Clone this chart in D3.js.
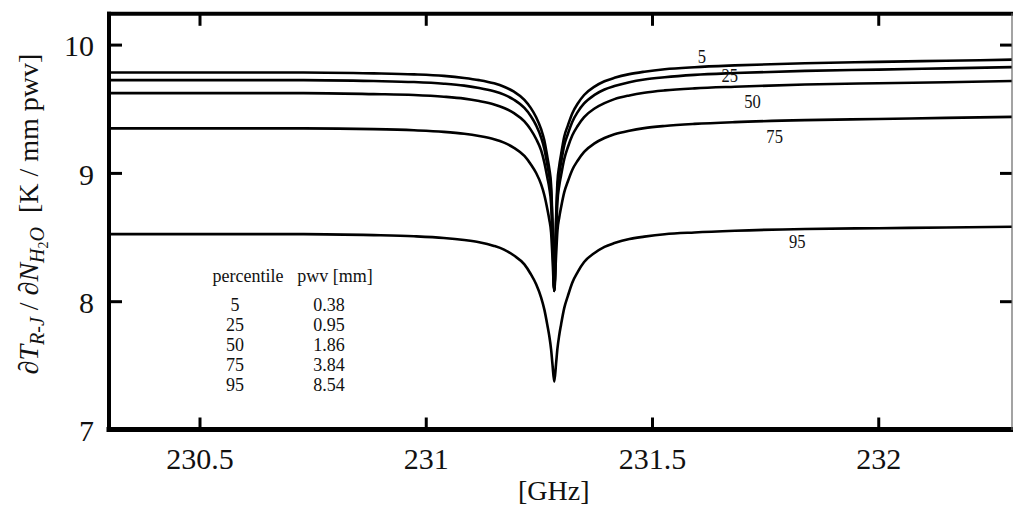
<!DOCTYPE html>
<html>
<head>
<meta charset="utf-8">
<script src="https://cdn.jsdelivr.net/npm/d3@7"></script>
<style>
  body { margin: 0; background: #fff; }
  svg text { font-family: "Liberation Serif", "Times New Roman", serif; fill: #111; }
</style>
</head>
<body>
<script>
const width = 1013;
const height = 509;
const serif = '"Liberation Serif", "Times New Roman", serif';

// frequency grid (GHz) shared by all curves
const freqs = [230.300, 230.500, 230.730, 230.885, 230.974, 231.040, 231.085, 231.118, 231.151, 231.173,
    231.195, 231.218, 231.232, 231.244, 231.255, 231.262, 231.269, 231.273, 231.277, 231.280,
    231.284,
    231.288, 231.291, 231.295, 231.299, 231.306, 231.314, 231.324, 231.336, 231.350, 231.373,
    231.395, 231.417, 231.450, 231.483, 231.528, 231.594, 231.683, 231.838, 232.000, 232.150, 232.300];

// dT/dN values per percentile
const v5 = [9.783, 9.783, 9.783, 9.776, 9.768, 9.756, 9.740, 9.723, 9.698, 9.672, 9.633, 9.570, 9.507, 9.434,
    9.340, 9.255, 9.118, 9.033, 8.905, 8.624, 8.079, 8.636, 8.924, 9.055, 9.142, 9.282, 9.369, 9.465, 9.541,
    9.607, 9.672, 9.714, 9.741, 9.770, 9.789, 9.808, 9.824, 9.838, 9.855, 9.865, 9.874, 9.883];
const v25 = [9.723, 9.723, 9.723, 9.716, 9.708, 9.695, 9.680, 9.662, 9.636, 9.610, 9.570, 9.506, 9.444, 9.370,
    9.276, 9.189, 9.057, 8.975, 8.852, 8.589, 8.079, 8.600, 8.869, 8.995, 9.079, 9.214, 9.303, 9.399, 9.476,
    9.541, 9.608, 9.650, 9.677, 9.707, 9.728, 9.746, 9.764, 9.778, 9.795, 9.805, 9.815, 9.825];
const v50 = [9.622, 9.622, 9.622, 9.614, 9.607, 9.594, 9.579, 9.560, 9.534, 9.506, 9.466, 9.401, 9.337, 9.264,
    9.175, 9.082, 8.959, 8.882, 8.758, 8.512, 8.080, 8.522, 8.774, 8.900, 8.979, 9.106, 9.200, 9.293, 9.368,
    9.435, 9.502, 9.544, 9.575, 9.604, 9.625, 9.643, 9.659, 9.672, 9.689, 9.699, 9.707, 9.716];
const v75 = [9.347, 9.347, 9.347, 9.341, 9.332, 9.320, 9.305, 9.287, 9.262, 9.236, 9.195, 9.132, 9.068, 8.999,
    8.910, 8.828, 8.713, 8.637, 8.536, 8.346, 8.080, 8.353, 8.548, 8.652, 8.730, 8.848, 8.933, 9.025, 9.097,
    9.164, 9.230, 9.272, 9.301, 9.329, 9.349, 9.366, 9.382, 9.396, 9.411, 9.420, 9.429, 9.437];
const v95 = [8.523, 8.523, 8.523, 8.515, 8.506, 8.493, 8.477, 8.460, 8.431, 8.402, 8.356, 8.287, 8.212, 8.132,
    8.028, 7.936, 7.809, 7.729, 7.625, 7.510, 7.372, 7.513, 7.630, 7.735, 7.817, 7.946, 8.040, 8.146, 8.229,
    8.305, 8.376, 8.424, 8.453, 8.485, 8.503, 8.522, 8.536, 8.549, 8.563, 8.569, 8.574, 8.580];

const percentiles = [5, 25, 50, 75, 95];
const pwvValues = ["0.38", "0.95", "1.86", "3.84", "8.54"];

// where the percentile tags sit on the curves (GHz, value)
const tagFreq = [231.610, 231.672, 231.722, 231.771, 231.821];
const tagValue = [9.905, 9.754, 9.554, 9.281, 8.463];

const xTicks = [230.5, 231, 231.5, 232];
const yTicks = [7, 8, 9, 10];

const series = [v5, v25, v50, v75, v95];

const svg = d3.select("body").append("svg")
    .attr("width", width)
    .attr("height", height);

const x = d3.scaleLinear().domain([230.3, 232.3]).range([109, 1014]);
const y = d3.scaleLinear().domain([7, 10.24]).range([429.5, 13.8]);
const xLeft = 109;
const xRight = 1012;

// curves
const line = d3.line()
    .x(d => x(d[0]))
    .y(d => y(d[1]))
    .curve(d3.curveMonotoneX);

svg.append("defs").append("clipPath").attr("id", "plotclip")
    .append("rect").attr("x", xLeft).attr("y", 0).attr("width", xRight - xLeft).attr("height", height);

svg.append("g")
    .attr("clip-path", "url(#plotclip)")
    .selectAll("path")
    .data(series)
    .join("path")
    .attr("d", vals => line(freqs.map((f, i) => [f, vals[i]])))
    .attr("fill", "none")
    .attr("stroke", "#000")
    .attr("stroke-width", 2.6)
    .attr("stroke-linejoin", "round");

// percentile tags on curves
svg.append("g")
    .selectAll("text")
    .data(percentiles)
    .join("text")
    .attr("transform", (d, i) => `translate(${x(tagFreq[i])},${y(tagValue[i])}) scale(0.92,1)`)
    .attr("text-anchor", "middle")
    .attr("dy", "0.35em")
    .attr("font-size", 18)
    .style("font-family", serif)
    .text(d => d);

// axes (ticks point inward)
const styleAxis = g => {
    g.select(".domain").remove();
    g.selectAll(".tick line").attr("stroke", "#000").attr("stroke-width", 3);
};

svg.append("g")
    .attr("transform", `translate(0,${y(7)})`)
    .call(d3.axisBottom(x).tickValues(xTicks).tickSize(-12).tickPadding(18).tickFormat(d => d))
    .call(styleAxis)
    .call(g => g.selectAll("text")
        .attr("font-size", 30)
        .style("font-family", serif)
        .attr("fill", "#111"));

svg.append("g")
    .attr("transform", `translate(0,${y(10.24)})`)
    .call(d3.axisTop(x).tickValues(xTicks).tickSize(-12).tickFormat(""))
    .call(styleAxis);

svg.append("g")
    .attr("transform", `translate(${xLeft},0)`)
    .call(d3.axisLeft(y).tickValues(yTicks).tickSize(-13).tickPadding(15).tickFormat(d => d))
    .call(styleAxis)
    .call(g => g.selectAll("text")
        .attr("font-size", 30)
        .style("font-family", serif)
        .attr("fill", "#111")
        .attr("dy", "0.38em"));

svg.append("g")
    .attr("transform", `translate(${xRight},0)`)
    .call(d3.axisRight(y).tickValues(yTicks).tickSize(-12).tickFormat(""))
    .call(styleAxis);

// frame
const frame = svg.append("g").attr("stroke", "#000").attr("stroke-linecap", "square");
frame.append("line").attr("x1", xLeft).attr("x2", xLeft).attr("y1", y(10.24)).attr("y2", y(7)).attr("stroke-width", 4);
frame.append("line").attr("x1", xLeft).attr("x2", width).attr("y1", y(7)).attr("y2", y(7)).attr("stroke-width", 5);
frame.append("line").attr("x1", xLeft).attr("x2", width).attr("y1", y(10.24)).attr("y2", y(10.24)).attr("stroke-width", 4);
frame.append("line").attr("x1", xRight).attr("x2", xRight).attr("y1", y(10.24)).attr("y2", y(7)).attr("stroke-width", 1.2).attr("stroke", "#666");

// axis titles
svg.append("text")
    .attr("x", x(231.283))
    .attr("y", 500)
    .attr("text-anchor", "middle")
    .attr("font-size", 28)
    .style("font-family", serif)
    .text("[GHz]");

const yt = svg.append("text")
    .attr("transform", "translate(38,214) rotate(-90)")
    .attr("text-anchor", "middle")
    .attr("font-size", 28)
    .style("font-family", serif);
yt.append("tspan").text("∂");
yt.append("tspan").attr("font-style", "italic").text("T");
yt.append("tspan").attr("font-style", "italic").attr("font-size", 20).attr("dy", 6).text("R-J");
yt.append("tspan").attr("dy", -6).text(" / ∂");
yt.append("tspan").attr("font-style", "italic").text("N");
yt.append("tspan").attr("font-style", "italic").attr("font-size", 20).attr("dy", 6).text("H");
yt.append("tspan").attr("font-size", 14).attr("dy", 4).text("2");
yt.append("tspan").attr("font-style", "italic").attr("font-size", 20).attr("dy", -4).text("O");
yt.append("tspan").attr("dy", -6).text("\u00a0 [K / mm pwv]");

// percentile / pwv table
const table = svg.append("g").attr("font-size", 18).style("font-family", serif);
table.append("text").attr("x", 248).attr("y", 282).attr("text-anchor", "middle").text("percentile");
table.append("text").attr("x", 335).attr("y", 282).attr("text-anchor", "middle").text("pwv [mm]");
table.selectAll("text.pc")
    .data(percentiles)
    .join("text")
    .attr("class", "pc")
    .attr("x", 235)
    .attr("y", (d, i) => 311 + i * 20)
    .attr("text-anchor", "middle")
    .text(d => d);
table.selectAll("text.pw")
    .data(pwvValues)
    .join("text")
    .attr("class", "pw")
    .attr("x", 329)
    .attr("y", (d, i) => 311 + i * 20)
    .attr("text-anchor", "middle")
    .text(d => d);
</script>
</body>
</html>
